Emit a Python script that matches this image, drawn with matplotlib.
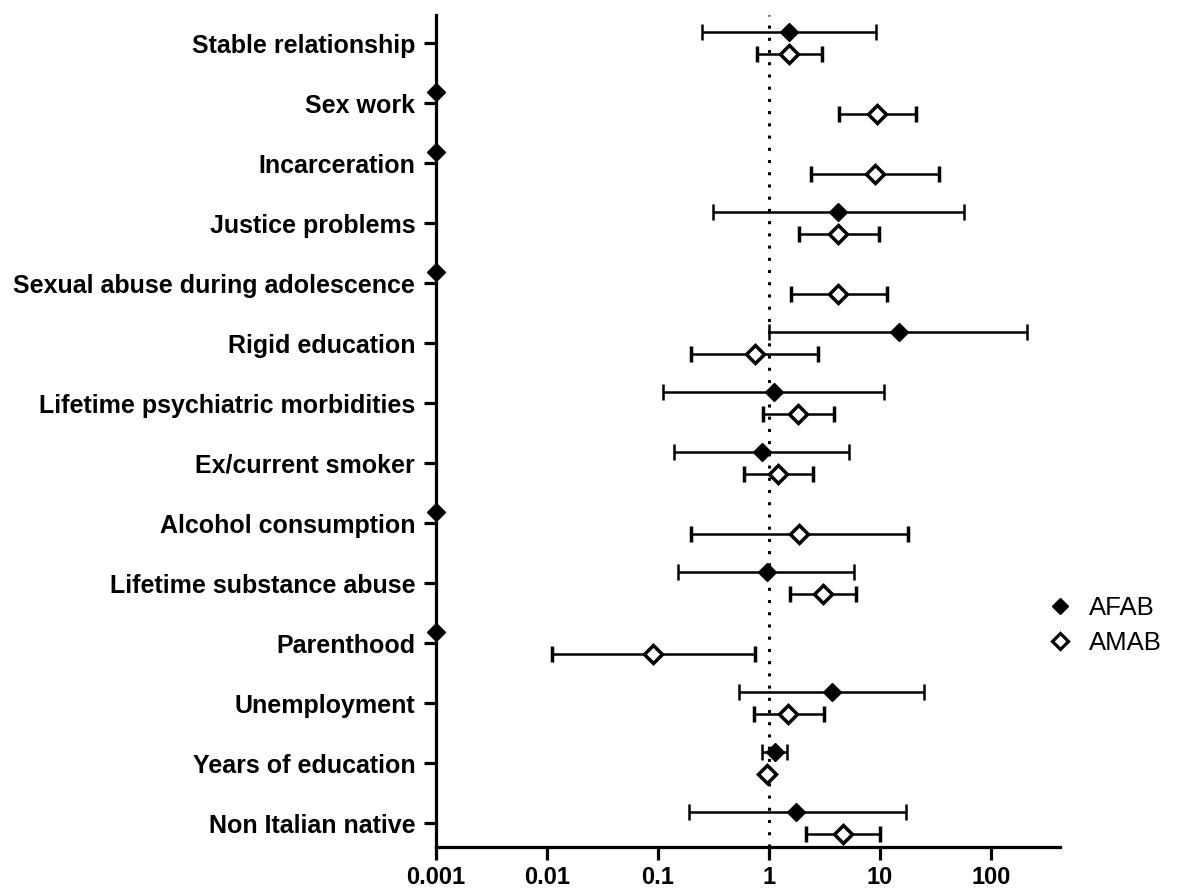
import numpy as np
import matplotlib.pyplot as plt
from matplotlib.lines import Line2D

plt.rcParams['font.family'] = ['Liberation Sans', 'DejaVu Sans']

# %% data (odds ratios with 95% CI)
categories = ["Stable relationship", "Sex work", "Incarceration", "Justice problems",
              "Sexual abuse during adolescence", "Rigid education",
              "Lifetime psychiatric morbidities", "Ex/current smoker",
              "Alcohol consumption", "Lifetime substance abuse", "Parenthood",
              "Unemployment", "Years of education", "Non Italian native"]

nan = np.nan
afab_or = [1.5, nan, nan, 4.2, nan, 14.8, 1.11, 0.87, nan, 0.96, nan, 3.7, 1.13, 1.75]
afab_lo = [0.25, nan, nan, 0.31, nan, 1.0, 0.11, 0.14, nan, 0.15, nan, 0.54, 0.87, 0.19]
afab_hi = [9.2, nan, nan, 57, nan, 210, 10.9, 5.25, nan, 5.8, nan, 25, 1.45, 17]

amab_or = [1.5, 9.4, 9.0, 4.2, 4.2, 0.75, 1.83, 1.2, 1.86, 3.06, 0.09, 1.48, 0.96, 4.6]
amab_lo = [0.78, 4.3, 2.4, 1.86, 1.58, 0.20, 0.88, 0.6, 0.20, 1.55, 0.011, 0.73, 0.96, 2.15]
amab_hi = [3.0, 21, 34, 9.8, 11.5, 2.77, 3.85, 2.5, 17.9, 6.1, 0.75, 3.1, 0.96, 10]

xticks = [0.001, 0.01, 0.1, 1, 10, 100]
xticklabels = ["0.001", "0.01", "0.1", "1", "10", "100"]

# %%
fig = plt.figure(figsize=(11.78, 8.92), dpi=100)
xmin, xmax = 0.001, 420
# left edge at 0.001 -> px 436, 111 px per decade
ax_w = np.log10(xmax / xmin) * 111 / 1178
ax = fig.add_axes([0.3701, 0.0504, ax_w, 0.9328])

y = np.arange(len(categories))
off = 0.18
afab_or = np.array(afab_or); afab_lo = np.array(afab_lo); afab_hi = np.array(afab_hi)
amab_or = np.array(amab_or); amab_lo = np.array(amab_lo); amab_hi = np.array(amab_hi)

ok = ~np.isnan(afab_or)
ax.errorbar(afab_or[ok], y[ok] - off,
            xerr=[afab_or[ok] - afab_lo[ok], afab_hi[ok] - afab_or[ok]],
            fmt='D', color='black', ms=9.5, mfc='black', mec='black',
            elinewidth=1.8, capsize=6, capthick=1.8, zorder=3)
# not estimable -> drawn on the axis
ax.plot(np.full((~ok).sum(), xmin), y[~ok] - off, 'D', color='black', ms=9.5,
        clip_on=False, zorder=4)

ax.errorbar(amab_or, y + off,
            xerr=[amab_or - amab_lo, amab_hi - amab_or],
            fmt='D', color='black', ms=9.5, mfc='white', mec='black', mew=2.5,
            elinewidth=1.8, capsize=6, capthick=1.8, zorder=3)

ax.axvline(1, color='black', ls=(0, (1, 3)), lw=2.2, zorder=1)

ax.set_xscale('log')
ax.set_xlim(xmin, xmax)
ax.set_ylim(13.4, -0.47)
ax.set_xticks(xticks)
ax.set_xticklabels(xticklabels, fontsize=17, fontweight='bold')
ax.xaxis.set_minor_locator(plt.NullLocator())
ax.set_yticks(y)
ax.set_yticklabels(categories, fontsize=18, fontweight='bold')

for s in ['top', 'right']:
    ax.spines[s].set_visible(False)
for s in ['left', 'bottom']:
    ax.spines[s].set_linewidth(2.3)
ax.tick_params(axis='y', length=9, width=2.3, pad=6)
ax.tick_params(axis='x', length=9, width=2.3, pad=5)

handles = [Line2D([], [], marker='D', ls='none', color='black', ms=8),
           Line2D([], [], marker='D', ls='none', color='black', mfc='white', mew=2.3, ms=8)]
fig.legend(handles, ['AFAB', 'AMAB'], loc='center left', bbox_to_anchor=(0.887, 0.299),
           frameon=False, fontsize=18.5, handletextpad=0.5, labelspacing=0.45,
           handlelength=1.2, borderpad=0, borderaxespad=0)

fig.savefig('out.png', dpi=100)
